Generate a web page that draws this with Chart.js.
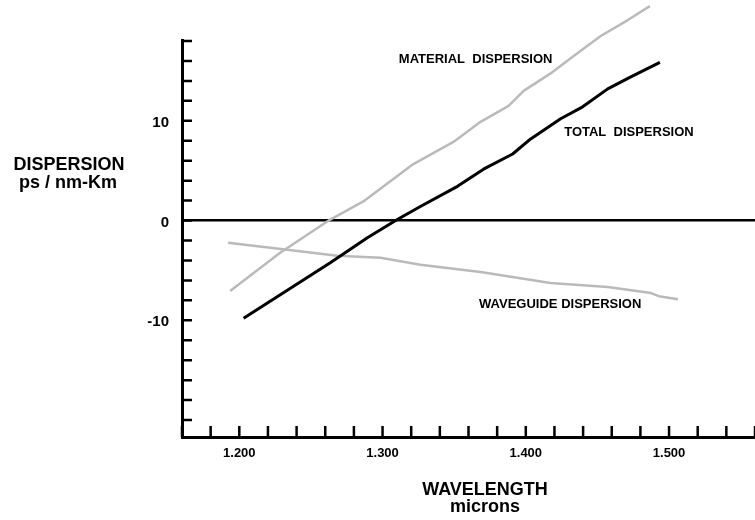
<!DOCTYPE html>
<html>
<head>
<meta charset="utf-8">
<script src="https://cdn.jsdelivr.net/npm/chart.js@4.4.1/dist/chart.umd.min.js"></script>
<style>
  html, body { margin: 0; padding: 0; background: #fff; }
  #wrap { width: 755px; height: 520px; }
</style>
</head>
<body>
<div id="wrap"><canvas id="dispersionChart" width="755" height="520"></canvas></div>
<script>
// wavelength (microns) and dispersion (ps / nm-Km)
const totalX = [1.203, 1.2635, 1.2894, 1.3103, 1.3264, 1.3523, 1.3705, 1.3908, 1.4034, 1.4243, 1.4397, 1.4572, 1.4733, 1.4936];
const totalY = [-9.8, -4.24, -1.72, 0.1, 1.41, 3.43, 5.15, 6.67, 8.18, 10.2, 11.4, 13.2, 14.4, 15.86];

const materialX = [1.1936, 1.2285, 1.2635, 1.2866, 1.3215, 1.3495, 1.3684, 1.388, 1.3985, 1.4173, 1.4334, 1.4523, 1.4712, 1.4866];
const materialY = [-7.07, -3.23, 0.1, 1.92, 5.66, 7.88, 9.9, 11.5, 13.0, 14.75, 16.5, 18.5, 20.1, 21.5];

const waveguideX = [1.1922, 1.2334, 1.2684, 1.2985, 1.3264, 1.3684, 1.4173, 1.4572, 1.4873, 1.4929, 1.5062];
const waveguideY = [-2.22, -2.93, -3.54, -3.74, -4.44, -5.15, -6.26, -6.67, -7.27, -7.58, -7.88];

// labelled ticks
const yTickLabels = [10, 0, -10];
const xTickLabels = [1.2, 1.3, 1.4, 1.5];

const family = '"Liberation Sans", Arial, sans-serif';
Chart.defaults.font.family = family;
Chart.defaults.font.weight = 'bold';
Chart.defaults.color = '#000';

function points(xs, ys) {
    return xs.map((x, i) => ({ x: x, y: ys[i] }));
}

// short tick marks pointing into the plot, like the hand drawn axes
const innerTicks = {
    id: 'innerTicks',
    afterDatasetsDraw(chart) {
        const { ctx, chartArea, scales: { x, y } } = chart;
        ctx.save();
        ctx.strokeStyle = '#000';
        ctx.lineWidth = 2.5;
        ctx.beginPath();
        y.ticks.forEach(t => {
            const py = y.getPixelForValue(t.value);
            ctx.moveTo(chartArea.left, py);
            ctx.lineTo(chartArea.left + 10, py);
        });
        x.ticks.forEach(t => {
            const px = x.getPixelForValue(t.value);
            ctx.moveTo(px, chartArea.bottom);
            ctx.lineTo(px, chartArea.bottom - 11);
        });
        ctx.stroke();
        ctx.restore();
    }
};

// curve names (placed in data units) and axis titles
const seriesLabels = [
    { text: 'MATERIAL  DISPERSION', x: 1.365, y: 16.2 },
    { text: 'TOTAL  DISPERSION', x: 1.472, y: 8.8 },
    { text: 'WAVEGUIDE DISPERSION', x: 1.424, y: -8.4 }
];

const annotations = {
    id: 'annotations',
    afterDraw(chart) {
        const { ctx, scales: { x, y } } = chart;
        ctx.save();
        ctx.fillStyle = '#000';
        ctx.textAlign = 'center';
        ctx.textBaseline = 'middle';
        ctx.font = 'bold 13px ' + family;
        seriesLabels.forEach(l => {
            ctx.fillText(l.text, x.getPixelForValue(l.x), y.getPixelForValue(l.y));
        });
        ctx.font = 'bold 18px ' + family;
        ctx.fillText('DISPERSION', 69, 165);
        ctx.fillText('ps / nm-Km', 68, 183);
        ctx.fillText('WAVELENGTH', 485, 490);
        ctx.fillText('microns', 485, 507);
        ctx.restore();
    }
};

const near = (a, b) => Math.abs(a - b) < 1e-6;

new Chart(document.getElementById('dispersionChart'), {
    type: 'line',
    data: {
        datasets: [
            {
                label: 'Total dispersion',
                data: points(totalX, totalY),
                borderColor: '#000',
                borderWidth: 3
            },
            {
                label: 'Material dispersion',
                data: points(materialX, materialY),
                borderColor: '#bababa',
                borderWidth: 2.5
            },
            {
                label: 'Waveguide dispersion',
                data: points(waveguideX, waveguideY),
                borderColor: '#bababa',
                borderWidth: 2.5
            }
        ]
    },
    options: {
        responsive: false,
        animation: false,
        events: [],
        layout: { padding: { top: 40, left: 0, right: 0, bottom: 0 } },
        elements: {
            point: { radius: 0 },
            line: { tension: 0, borderJoinStyle: 'round', borderCapStyle: 'butt' }
        },
        datasets: { line: { clip: false } },
        plugins: {
            legend: { display: false },
            tooltip: { enabled: false }
        },
        scales: {
            x: {
                type: 'linear',
                min: 1.16,
                max: 1.56,
                afterFit: scale => {
                    scale.height = 83;
                    scale.paddingLeft = 0;
                    scale.paddingRight = 0;
                },
                border: { display: true, color: '#000', width: 3 },
                grid: { color: 'rgba(0,0,0,0)', drawTicks: false },
                ticks: {
                    stepSize: 0.02,
                    autoSkip: false,
                    maxRotation: 0,
                    padding: 9,
                    font: { size: 13, weight: 'bold' },
                    callback: v => xTickLabels.some(t => near(t, v)) ? v.toFixed(3) : ''
                }
            },
            y: {
                min: -21.7,
                max: 18.1,
                afterFit: scale => {
                    scale.width = 182;
                    scale.paddingTop = 0;
                    scale.paddingBottom = 0;
                },
                border: { display: true, color: '#000', width: 3 },
                grid: {
                    drawTicks: false,
                    lineWidth: 2.5,
                    color: c => (c.tick && near(c.tick.value, 0)) ? '#000' : 'rgba(0,0,0,0)'
                },
                ticks: {
                    stepSize: 2,
                    autoSkip: false,
                    includeBounds: false,
                    padding: 13,
                    labelOffset: 2,
                    font: { size: 15, weight: 'bold' },
                    callback: v => yTickLabels.some(t => near(t, v)) ? String(v) : ''
                }
            }
        }
    },
    plugins: [innerTicks, annotations]
});
</script>
</body>
</html>
